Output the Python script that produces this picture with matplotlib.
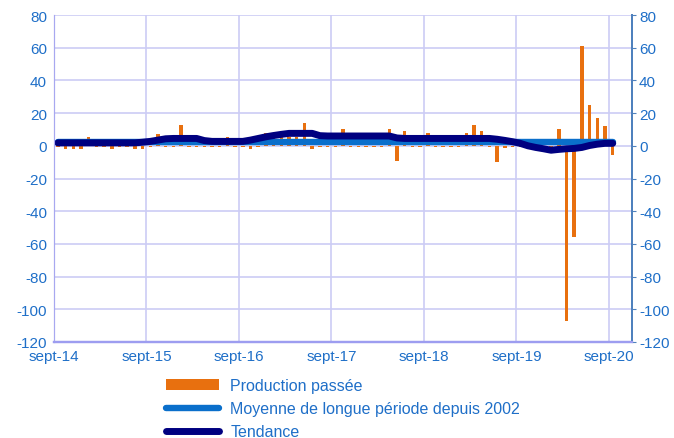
import numpy as np
import matplotlib
matplotlib.use("Agg")
import matplotlib.pyplot as plt
from matplotlib.patches import Patch
from matplotlib.lines import Line2D

plt.rcParams['font.family'] = ['Liberation Sans', 'DejaVu Sans']
plt.rcParams['axes.unicode_minus'] = False

# Mois depuis sept-14 (0) jusqu'à sept-20 (72)
etiquettes = ["sept-14", "sept-15", "sept-16", "sept-17", "sept-18", "sept-19", "sept-20"]

production = [
    -0.8, -2, -2, -2, 5.5, -0.8, -0.8, -2, -0.8, -0.8, -2, -2,
    -0.8, 7, -0.8, -0.8, 13, -0.8, -0.8, -0.8, -0.8, -0.8, 5.5, -0.8,
    -0.8, -2, -0.8, 8, 5, 9, 5.5, 5.5, 14, -2, -0.8, -0.8,
    -0.8, 10.5, -0.8, -0.8, -0.8, -0.8, -0.8, 10, -9, 9, -0.8, -0.8,
    8, -0.8, -0.8, -0.8, -0.8, 8, 13, 9, -0.8, -10, -1.5, -0.8,
    -0.8, -0.8, -0.8, -0.8, -0.8, 10.5, -107, -56, 61, 25, 17, 12,
    -5.5,
]

tendance = [
    1.8, 1.8, 1.8, 1.8, 1.8, 1.8, 1.8, 1.8, 1.8, 1.8, 1.8, 2.2,
    2.7, 3.5, 4.3, 4.5, 4.5, 4.5, 4.5, 3.2, 2.7, 2.7, 2.7, 2.7,
    2.7, 3.5, 4.5, 5.5, 6.3, 7.0, 7.6, 7.6, 7.6, 7.6, 6.2, 6.0,
    6.0, 6.0, 6.0, 6.0, 6.0, 6.0, 6.0, 6.0, 4.8, 4.5, 4.5, 4.5,
    4.5, 4.5, 4.5, 4.5, 4.5, 4.5, 4.5, 4.5, 4.5, 4.0, 3.3, 2.5,
    1.5, 0.0, -1.0, -1.8, -2.7, -2.2, -1.8, -1.6, -1.0, 0.2, 1.0, 1.5,
    1.5,
]

moyenne_lp = 2.2  # moyenne de longue période depuis 2002

n = len(production)
x = np.arange(n) + 0.5

fig = plt.figure(figsize=(6.74, 4.39), dpi=100)
ax = fig.add_axes([54 / 674, 96 / 439, (632 - 54) / 674, (343 - 16) / 439])

grid_col = "#CCCCF5"
txt_col = "#1F6FC8"

ax.bar(x, production, width=0.45, color="#E8700F", zorder=2)
ax.plot(x, [moyenne_lp] * n, color="#0A6FCB", lw=4.6, solid_capstyle="round", zorder=3)
ax.plot(x, tendance, color="#000080", lw=5.0, solid_capstyle="round",
        solid_joinstyle="round", zorder=4)

ax.set_xlim(0, 75)
ax.set_ylim(-120, 80)
ax.set_yticks(np.arange(-120, 81, 20))
ax.set_xticks(np.arange(0, 73, 12))
ax.set_xticklabels(etiquettes)
ax.grid(True, color=grid_col, lw=1.2, zorder=0)
ax.set_axisbelow(True)

ax.tick_params(axis="x", length=0, pad=5, colors=txt_col, labelsize=11)
ax.tick_params(axis="y", length=0, pad=5, colors=txt_col, labelsize=11)

ax2 = ax.twinx()
ax2.set_ylim(-120, 80)
ax2.set_yticks(np.arange(-120, 81, 20))
ax2.tick_params(axis="y", length=3, pad=2, colors=txt_col, labelsize=11)
ax2.tick_params(axis="y", color="#4F81BD")

for a in (ax, ax2):
    a.spines["top"].set_visible(False)
    a.spines["left"].set_color("#A8A8F0")
    a.spines["bottom"].set_color("#9D9DF0")
    a.spines["bottom"].set_linewidth(1.6)
    a.spines["right"].set_color("#4F81BD")
    a.spines["right"].set_linewidth(1.4)

handles = [
    Patch(facecolor="#E8700F", edgecolor="none"),
    Line2D([0], [0], color="#0A6FCB", lw=4.6, solid_capstyle="round"),
    Line2D([0], [0], color="#000080", lw=5.0, solid_capstyle="round"),
]
labels = ["Production passée", "Moyenne de longue période depuis 2002", "Tendance"]
leg = fig.legend(handles, labels, loc="upper left", bbox_to_anchor=(160 / 674, 1 - 373 / 439),
                 frameon=False, fontsize=11.5, handlelength=3.3, handleheight=0.7,
                 handletextpad=0.7, labelspacing=0.5, borderaxespad=0)
for t in leg.get_texts():
    t.set_color(txt_col)

fig.savefig("out.png", dpi=100)
